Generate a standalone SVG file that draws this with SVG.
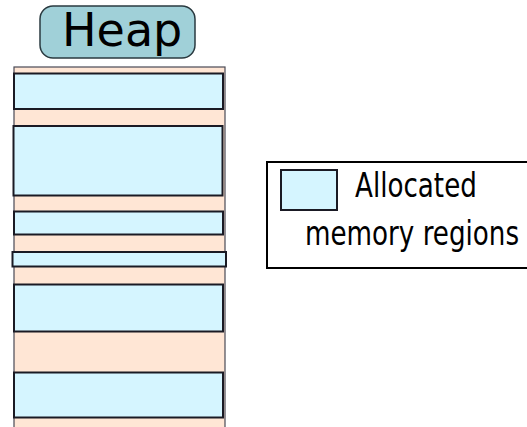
<svg xmlns="http://www.w3.org/2000/svg" width="527" height="427" viewBox="0 0 527 427">
<style>
.alloc{fill:#d5f5ff;stroke:#1a1a24;stroke-width:2}
.free{fill:#ffe6d5;stroke:#4a4a55;stroke-width:1.2}
.lbl{font-family:"DejaVu Sans",sans-serif;fill:#000}
</style>
<rect width="527" height="427" fill="#fff"/>
<g id="heap-title">
<rect x="40" y="6" width="155" height="52" rx="13" fill="#a0d0d8" stroke="#2a3a40" stroke-width="1.5"/>
<text class="lbl" x="62" y="45.5" font-size="46">Heap</text>
</g>
<g id="heap">
<rect class="free" x="14" y="67" width="211" height="370"/>
<rect class="alloc" x="14" y="73.5" width="209" height="35.5"/>
<rect class="alloc" x="13.5" y="126" width="209" height="69.5"/>
<rect class="alloc" x="14" y="211.5" width="209" height="23"/>
<rect class="alloc" x="12.5" y="252" width="213.5" height="14.5"/>
<rect class="alloc" x="14" y="284.5" width="209" height="47"/>
<rect class="alloc" x="14" y="372.5" width="209" height="45"/>
</g>
<g id="legend">
<rect x="267" y="162" width="264" height="106" fill="#fff" stroke="#000" stroke-width="2"/>
<rect class="alloc" x="281" y="170" width="56" height="40" stroke-width="1.5"/>
<text class="lbl" transform="translate(355,197) scale(0.77,1)" x="0" y="0" font-size="34">Allocated</text>
<text class="lbl" transform="translate(305,245) scale(0.77,1)" x="0" y="0" font-size="34">memory regions</text>
</g>
</svg>
